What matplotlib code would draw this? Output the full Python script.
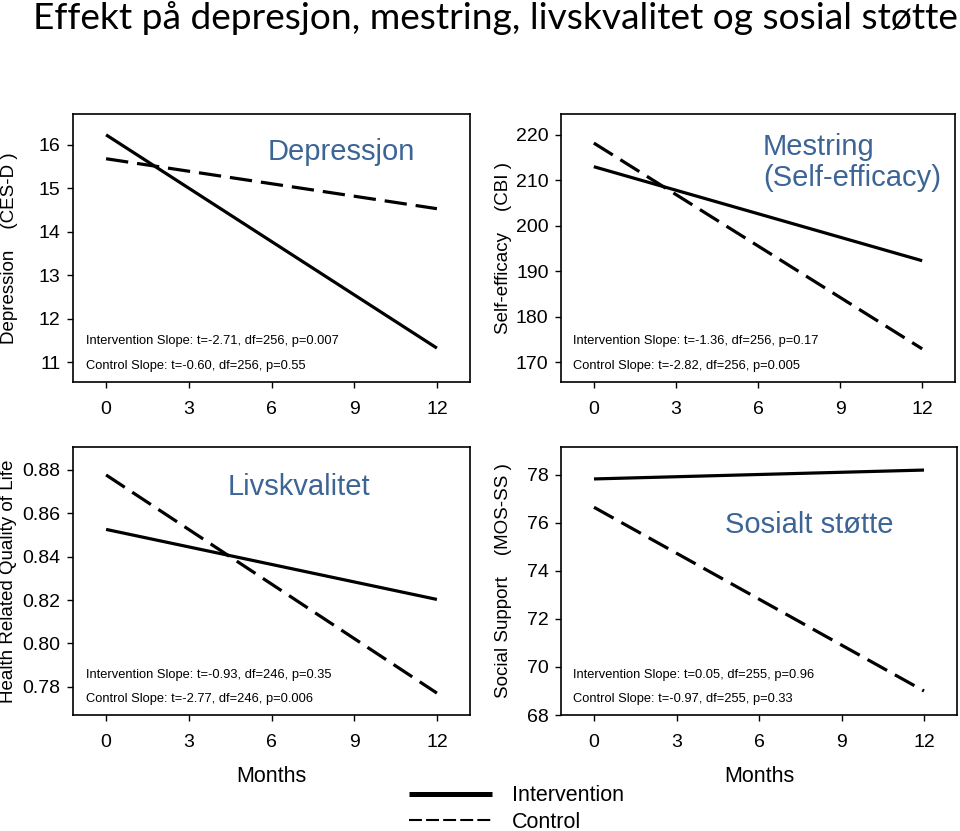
import matplotlib
matplotlib.use("Agg")
import matplotlib.pyplot as plt
from matplotlib.lines import Line2D

# months of follow-up
months = [0, 12]
xticks = [0, 3, 6, 9, 12]

# Depresjon (CES-D)
dep_int = [16.23, 11.32]
dep_ctl = [15.68, 14.53]
# Mestring (CBI)
cbi_int = [213.0, 192.3]
cbi_ctl = [218.2, 172.9]
# Livskvalitet
qol_int = [0.8526, 0.8203]
qol_ctl = [0.8777, 0.7771]
# Sosial stotte (MOS-SS)
mos_int = [77.83, 78.20]
mos_ctl = [76.65, 69.00]

dep_yticks = [11, 12, 13, 14, 15, 16]
cbi_yticks = [170, 180, 190, 200, 210, 220]
qol_yticks = [0.78, 0.80, 0.82, 0.84, 0.86, 0.88]
mos_yticks = [68, 70, 72, 74, 76, 78]

dep_txt = ["Intervention Slope: t=-2.71, df=256, p=0.007",
           "Control Slope: t=-0.60, df=256, p=0.55"]
cbi_txt = ["Intervention Slope: t=-1.36, df=256, p=0.17",
           "Control Slope: t=-2.82, df=256, p=0.005"]
qol_txt = ["Intervention Slope: t=-0.93, df=246, p=0.35",
           "Control Slope: t=-2.77, df=246, p=0.006"]
mos_txt = ["Intervention Slope: t=0.05, df=255, p=0.96",
           "Control Slope: t=-0.97, df=255, p=0.33"]

BLUE = "#3C6595"
plt.rcParams["font.family"] = ["Liberation Sans", "DejaVu Sans"]

W, H = 960, 831
fig = plt.figure(figsize=(W / 100, H / 100), dpi=100)


def px_axes(x0, y0, x1, y1):
    return fig.add_axes([x0 / W, 1 - y1 / H, (x1 - x0) / W, (y1 - y0) / H])


def panel(ax, yi, yc, ylim, yticks, yfmt, ylabel, lab_x, title, tx, ty, texts, tlx, tty, months_label=False):
    ax.plot(months, yi, color="black", lw=2.3, solid_capstyle="butt")
    ax.plot(months, yc, color="black", lw=2.3, dashes=(7, 2.8))
    ax.set_xlim(-1.2, 13.2)
    ax.set_ylim(*ylim)
    ax.set_xticks(xticks)
    ax.set_yticks(yticks)
    ax.set_yticklabels([yfmt.format(v) for v in yticks])
    ax.tick_params(axis="both", direction="out", length=4, width=1, labelsize=14, color="black")
    ax.tick_params(axis="x", pad=10)
    ax.tick_params(axis="y", pad=5)
    for s in ax.spines.values():
        s.set_linewidth(1.2)
    ax.set_ylabel(ylabel, fontsize=13.5)
    ax.yaxis.set_label_coords(lab_x, 0.5)
    ax.text(tx, ty, title, transform=ax.transAxes, fontsize=21, color=BLUE,
            ha="left", va="center", linespacing=1.15)
    for t, yy in zip(texts, tty):
        ax.text(tlx, yy, t, transform=ax.transAxes, fontsize=9.3,
                ha="left", va="center")
    if months_label:
        ax.set_xlabel("Months", fontsize=15.5)
        ax.xaxis.set_label_coords(0.5, -0.19)


ax1 = px_axes(73, 114, 470, 382)
panel(ax1, dep_int, dep_ctl, (10.54, 16.71), dep_yticks, "{:d}",
      "Depression    (CES-D )", -0.138, "Depressjon", 0.489, 0.858,
      dep_txt, 0.033, [0.153, 0.060])

ax2 = px_axes(561, 114, 955, 382)
panel(ax2, cbi_int, cbi_ctl, (165.6, 224.6), cbi_yticks, "{:d}",
      "Self-efficacy    (CBI )", -0.124, "Mestring\n(Self-efficacy)", 0.513, 0.819,
      cbi_txt, 0.030, [0.153, 0.060])

ax3 = px_axes(73, 447, 470, 715)
panel(ax3, qol_int, qol_ctl, (0.767, 0.8906), qol_yticks, "{:.2f}",
      "Health Related Quality of Life", -0.141, "Livskvalitet", 0.390, 0.851,
      qol_txt, 0.033, [0.149, 0.060], months_label=True)

ax4 = px_axes(561, 447, 957, 715)
panel(ax4, mos_int, mos_ctl, (68.07, 79.16), mos_yticks, "{:d}",
      "Social Support    (MOS-SS )", -0.124, "Sosialt støtte", 0.414, 0.709,
      mos_txt, 0.030, [0.149, 0.060], months_label=True)

fig.text(33 / W, 1 - 29 / H, "Effekt på depresjon, mestring, livskvalitet og sosial støtte",
         family=["Lato", "DejaVu Sans"], fontsize=26.7, ha="left", va="baseline")

handles = [Line2D([], [], color="black", lw=3.6, solid_capstyle="butt"),
           Line2D([], [], color="black", lw=1.5, dashes=(6.2, 2.0))]
fig.legend(handles, ["Intervention", "Control"], loc="center left",
           bbox_to_anchor=(409 / W, 1 - 809 / H), frameon=False, fontsize=15.5,
           handlelength=3.86, handletextpad=0.93, labelspacing=0.25,
           borderpad=0, borderaxespad=0)

fig.savefig("out.png", dpi=100)
